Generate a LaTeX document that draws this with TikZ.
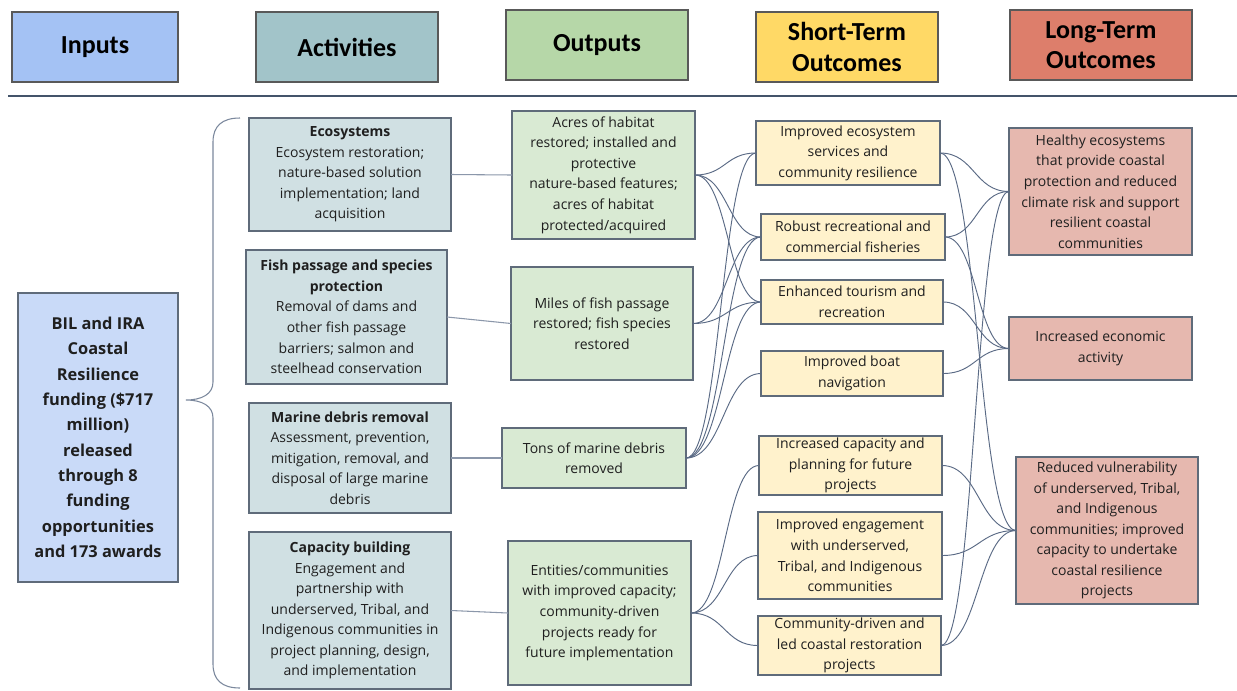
\documentclass[tikz,border=0pt]{standalone}
\usepackage{fontspec}
\setmainfont{Open Sans}
\newfontfamily\hdrfont{Carlito}
\usetikzlibrary{calc}
\definecolor{inH}{HTML}{A4C2F4}
\definecolor{acH}{HTML}{A2C4C9}
\definecolor{ouH}{HTML}{B6D7A8}
\definecolor{stH}{HTML}{FFD966}
\definecolor{ltH}{HTML}{DD7E6B}
\definecolor{inB}{HTML}{C9DAF8}
\definecolor{acB}{HTML}{D0E0E3}
\definecolor{ouB}{HTML}{D9EAD3}
\definecolor{stB}{HTML}{FFF2CC}
\definecolor{ltB}{HTML}{E6B8AF}
\definecolor{edge}{HTML}{5F6B7A}
\definecolor{wire}{HTML}{5A6A85}
\definecolor{sepc}{HTML}{44546A}
\definecolor{txt}{HTML}{1F1F1F}
\newcommand\bx[7]{\node[#6, minimum width={(#4-#2)*0.75pt}, minimum height={(#5-#3)*0.75pt}] (#1) at ({(#2+#4)/2},{(#3+#5)/2}) {#7};}
\newcommand\cn[2]{\draw[conn] let \p1=(#1.east), \p2=(#2.west) in (\p1) .. controls ({0.5*\x1+0.5*\x2},\y1) and ({0.5*\x1+0.5*\x2},\y2) .. (\p2);}
\tikzset{
  hbox/.style={draw=black!65, line width=0.8pt, font=\hdrfont\bfseries\fontsize{19.5}{23}\selectfont, align=center, inner sep=0pt, outer sep=0pt, text=black},
  bbox/.style={draw=edge, line width=0.8pt, font=\fontsize{10.5}{15.4}\selectfont, align=center, inner sep=0pt, outer sep=0pt, text=txt},
  conn/.style={draw=wire, line width=0.7pt},
  straight/.style={draw=wire!70, line width=0.8pt}
}
\begin{document}
\begin{tikzpicture}[x=0.75pt,y=-0.75pt]
\useasboundingbox[fill=white] (0,0) rectangle (1237,690);
% headers
\bx{hIn}{12}{12}{178}{82}{hbox,fill=inH}{Inputs}
\bx{hAc}{256}{12}{438}{82}{hbox,fill=acH}{Activities}
\bx{hOu}{506}{10}{688}{80}{hbox,fill=ouH}{Outputs}
\bx{hSt}{756}{12}{938}{82}{hbox,fill=stH}{Short-Term\\Outcomes}
\bx{hLt}{1010}{10}{1192}{80}{hbox,fill=ltH}{Long-Term\\Outcomes}
\coordinate (sepL) at (8,96);
\coordinate (sepR) at (1237,96);
\draw[sepc, line width=2.2pt] (sepL) -- (sepR);
% input
\bx{In}{18}{293}{178}{582}{bbox,fill=inB,font=\bfseries\fontsize{12.3}{19}\selectfont}{BIL and IRA\\Coastal\\Resilience\\funding (\$717\\million)\\released\\through 8\\funding\\opportunities\\and 173 awards}
% brace
\draw[wire!80, line width=0.8pt] (240,118) .. controls (222,118) and (213,126) .. (213,142) -- (213,382) .. controls (213,394) and (202,400) .. (186,400) .. controls (202,400) and (213,406) .. (213,418) -- (213,664) .. controls (213,680) and (222,688) .. (240,688);
% activities
\bx{A1}{249}{118}{451}{231}{bbox,fill=acB}{{\bfseries Ecosystems}\\Ecosystem restoration;\\nature-based solution\\implementation; land\\acquisition}
\bx{A2}{246}{250}{447}{384}{bbox,fill=acB}{{\bfseries Fish passage and species}\\{\bfseries protection}\\Removal of dams and\\other fish passage\\barriers; salmon and\\steelhead conservation}
\bx{A3}{249}{403}{451}{513}{bbox,fill=acB}{{\bfseries Marine debris removal}\\Assessment, prevention,\\mitigation, removal, and\\disposal of large marine\\debris}
\bx{A4}{249}{532}{451}{689}{bbox,fill=acB}{{\bfseries Capacity building}\\Engagement and\\partnership with\\underserved, Tribal, and\\Indigenous communities in\\project planning, design,\\and implementation}
% outputs
\bx{O1}{512}{111}{695}{239}{bbox,fill=ouB}{Acres of habitat\\restored; installed and\\protective\\nature-based features;\\acres of habitat\\protected/acquired}
\bx{O2}{511}{267}{693}{380}{bbox,fill=ouB}{Miles of fish passage\\restored; fish species\\restored}
\bx{O3}{502}{428}{686}{488}{bbox,fill=ouB}{Tons of marine debris\\removed}
\bx{O4}{508}{541}{691}{685}{bbox,fill=ouB}{Entities/communities\\with improved capacity;\\community-driven\\projects ready for\\future implementation}
% short-term
\bx{S1}{756}{121}{940}{185}{bbox,fill=stB}{Improved ecosystem\\services and\\community resilience}
\bx{S2}{761}{214}{945}{260}{bbox,fill=stB}{Robust recreational and\\commercial fisheries}
\bx{S3}{761}{280}{943}{324}{bbox,fill=stB}{Enhanced tourism and\\recreation}
\bx{S4}{761}{351}{943}{396}{bbox,fill=stB}{Improved boat\\navigation}
\bx{S5}{759}{436}{942}{495}{bbox,fill=stB}{Increased capacity and\\planning for future\\projects}
\bx{S6}{758}{512}{942}{599}{bbox,fill=stB}{Improved engagement\\with underserved,\\Tribal, and Indigenous\\communities}
\bx{S7}{758}{616}{941}{675}{bbox,fill=stB}{Community-driven and\\led coastal restoration\\projects}
% long-term
\bx{L1}{1009}{128}{1192}{255}{bbox,fill=ltB}{Healthy ecosystems\\that provide coastal\\protection and reduced\\climate risk and support\\resilient coastal\\communities}
\bx{L2}{1009}{317}{1192}{380}{bbox,fill=ltB}{Increased economic\\activity}
\bx{L3}{1016}{457}{1198}{604}{bbox,fill=ltB}{Reduced vulnerability\\of underserved, Tribal,\\and Indigenous\\communities; improved\\capacity to undertake\\coastal resilience\\projects}
% activity -> output
\draw[straight] (A1.east) -- (O1.west);
\draw[straight] (A2.east) -- (O2.west);
\draw[straight] (A3.east) -- (O3.west);
\draw[straight] (A4.east) -- (O4.west);
% output -> short-term
\cn{O1}{S1}\cn{O1}{S2}\cn{O1}{S3}
\cn{O2}{S2}\cn{O2}{S3}
\cn{O3}{S1}\cn{O3}{S2}\cn{O3}{S3}\cn{O3}{S4}
\cn{O4}{S5}\cn{O4}{S6}\cn{O4}{S7}
% short-term -> long-term
\cn{S1}{L1}\cn{S1}{L3}
\cn{S2}{L1}\cn{S2}{L2}
\cn{S3}{L2}\cn{S4}{L2}
\cn{S5}{L3}\cn{S6}{L3}\cn{S7}{L3}\cn{S7}{L1}
\end{tikzpicture}
\end{document}
